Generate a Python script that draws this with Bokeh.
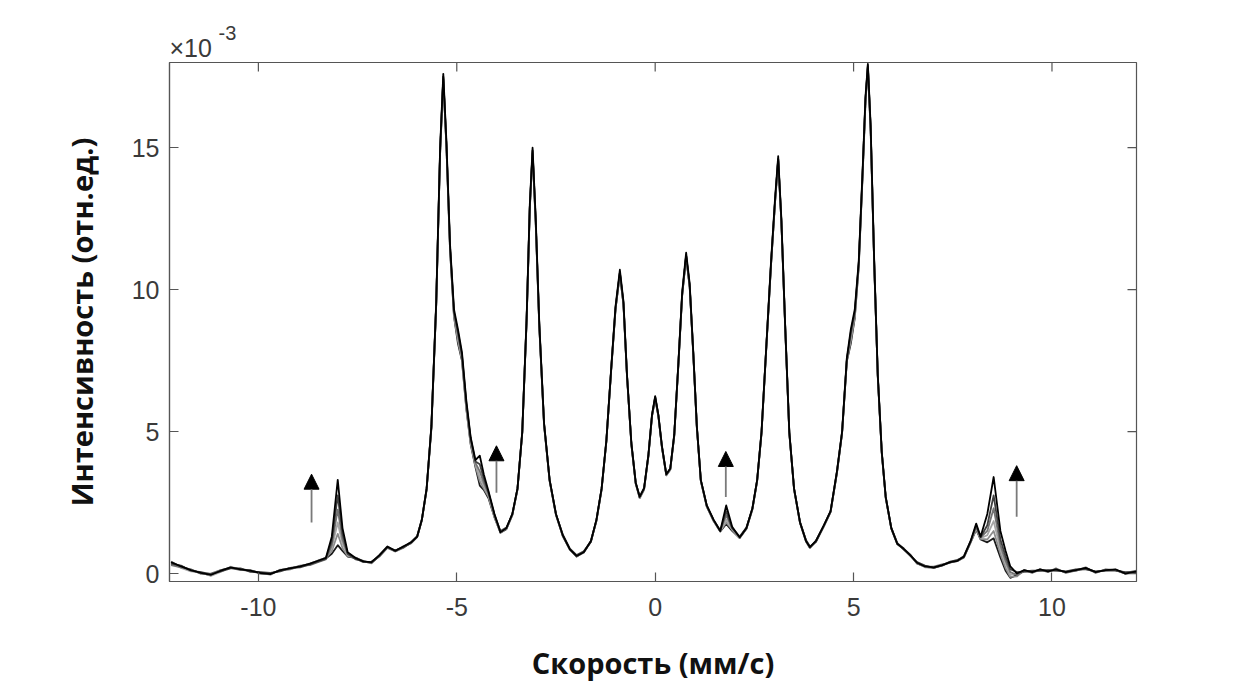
import math
from bokeh.plotting import figure
from bokeh.models import Range1d, FixedTicker, Arrow, NormalHead, Title
from bokeh.embed import file_html
from bokeh.resources import INLINE

# Velocity grid (mm/s)
velocity = [
    -12.2, -11.95, -11.7, -11.45, -11.2, -10.95, -10.7, -10.45, -10.2, -9.95,
    -9.7, -9.45, -9.2, -8.95, -8.7, -8.5, -8.3, -8.15, -8.0, -7.88,
    -7.75, -7.55, -7.35, -7.15, -6.95, -6.75, -6.55, -6.35, -6.15, -6.0,
    -5.88, -5.76, -5.64, -5.52, -5.42, -5.34, -5.26, -5.17, -5.07, -4.97,
    -4.87, -4.76, -4.65, -4.53, -4.42, -4.32, -4.2, -4.05, -3.9, -3.75,
    -3.6, -3.47, -3.35, -3.24, -3.16, -3.09, -3.01, -2.92, -2.8, -2.66,
    -2.5, -2.33, -2.15, -1.98, -1.8, -1.62, -1.48, -1.35, -1.23, -1.11,
    -1.0, -0.89, -0.8, -0.71, -0.6, -0.49, -0.39, -0.28, -0.17, -0.08,
    0.0, 0.08, 0.17, 0.28, 0.38, 0.48, 0.58, 0.68, 0.78, 0.87,
    0.96, 1.05, 1.15, 1.3, 1.47, 1.64, 1.79, 1.94, 2.13, 2.3,
    2.45, 2.57, 2.68, 2.8, 2.92, 3.02, 3.1, 3.18, 3.28, 3.38,
    3.5, 3.65, 3.8, 3.9, 4.05, 4.25, 4.42, 4.58, 4.71, 4.83,
    4.93, 5.03, 5.13, 5.23, 5.3, 5.36, 5.43, 5.52, 5.61, 5.71,
    5.81, 5.95, 6.1, 6.26, 6.43, 6.6, 6.8, 7.02, 7.23, 7.44,
    7.62, 7.78, 7.95, 8.09, 8.2, 8.37, 8.53, 8.7, 8.83, 8.95,
    9.12, 9.3, 9.5, 9.7, 9.9, 10.1, 10.35, 10.6, 10.85, 11.1,
    11.35, 11.6, 11.85, 12.13,
]

# Intensity, units of 1e-3 (six spectra)
spectrum_1 = [
    0.40, 0.25, 0.12, 0.02, -0.05, 0.10, 0.22, 0.15, 0.10, 0.02,
    -0.02, 0.12, 0.18, 0.25, 0.35, 0.45, 0.55, 1.30, 3.30, 1.60,
    0.75, 0.55, 0.42, 0.40, 0.65, 0.95, 0.80, 0.95, 1.10, 1.30,
    1.90, 3.00, 5.20, 9.50, 15.0, 17.6, 15.2, 11.6, 9.30, 8.60,
    7.80, 6.10, 4.80, 4.00, 4.15, 3.50, 2.90, 2.10, 1.45, 1.60,
    2.10, 3.00, 5.00, 9.00, 13.0, 15.0, 12.5, 8.80, 5.30, 3.30,
    2.10, 1.35, 0.85, 0.62, 0.75, 1.15, 1.90, 3.00, 4.70, 7.20,
    9.40, 10.7, 9.60, 7.00, 4.60, 3.20, 2.70, 3.00, 4.20, 5.60,
    6.25, 5.60, 4.50, 3.50, 3.70, 4.90, 7.30, 9.90, 11.3, 10.2,
    7.80, 5.20, 3.30, 2.40, 1.90, 1.50, 2.40, 1.65, 1.27, 1.60,
    2.30, 3.30, 5.00, 8.00, 11.0, 13.2, 14.7, 12.5, 8.60, 5.00,
    3.00, 1.80, 1.15, 0.93, 1.15, 1.70, 2.20, 3.60, 5.00, 7.60,
    8.60, 9.30, 11.0, 14.3, 16.8, 17.95, 15.8, 11.0, 7.00, 4.30,
    2.70, 1.60, 1.05, 0.88, 0.65, 0.38, 0.25, 0.22, 0.30, 0.40,
    0.45, 0.60, 1.15, 1.76, 1.30, 2.10, 3.40, 1.50, 0.80, 0.25,
    0.00, 0.12, 0.05, 0.15, 0.08, 0.15, 0.05, 0.12, 0.20, 0.05,
    0.12, 0.15, 0.00, 0.08,
]
spectrum_2 = [
    0.35, 0.28, 0.10, 0.05, -0.02, 0.08, 0.18, 0.18, 0.06, 0.05,
    0.02, 0.08, 0.20, 0.22, 0.32, 0.42, 0.52, 1.15, 2.75, 1.40,
    0.70, 0.50, 0.45, 0.38, 0.62, 0.92, 0.82, 0.92, 1.08, 1.28,
    1.88, 2.95, 5.10, 9.40, 14.9, 17.5, 15.1, 11.5, 9.20, 8.50,
    7.70, 6.00, 4.75, 3.95, 3.85, 3.35, 2.85, 2.05, 1.50, 1.62,
    2.08, 2.98, 4.95, 8.90, 12.9, 14.9, 12.4, 8.70, 5.25, 3.28,
    2.08, 1.38, 0.88, 0.65, 0.78, 1.12, 1.88, 2.98, 4.65, 7.15,
    9.30, 10.6, 9.50, 6.95, 4.55, 3.18, 2.72, 3.02, 4.15, 5.55,
    6.20, 5.55, 4.45, 3.48, 3.68, 4.85, 7.25, 9.80, 11.2, 10.1,
    7.75, 5.15, 3.28, 2.38, 1.88, 1.50, 2.20, 1.60, 1.30, 1.62,
    2.28, 3.28, 4.95, 7.95, 10.9, 13.1, 14.6, 12.4, 8.55, 4.95,
    2.98, 1.82, 1.18, 0.95, 1.12, 1.68, 2.18, 3.55, 4.95, 7.50,
    8.50, 9.20, 10.9, 14.2, 16.7, 17.85, 15.7, 10.9, 6.95, 4.25,
    2.68, 1.62, 1.08, 0.85, 0.62, 0.40, 0.28, 0.20, 0.28, 0.42,
    0.48, 0.58, 1.12, 1.70, 1.28, 1.70, 2.75, 1.20, 0.60, 0.15,
    0.05, 0.08, 0.10, 0.10, 0.12, 0.10, 0.08, 0.15, 0.15, 0.08,
    0.10, 0.10, 0.05, 0.05,
]
spectrum_3 = [
    0.30, 0.22, 0.15, 0.00, 0.00, 0.12, 0.20, 0.12, 0.12, 0.00,
    0.00, 0.10, 0.15, 0.28, 0.30, 0.40, 0.50, 1.00, 2.25, 1.20,
    0.68, 0.52, 0.40, 0.42, 0.60, 0.90, 0.78, 0.90, 1.12, 1.32,
    1.92, 3.00, 5.15, 9.45, 14.9, 17.5, 15.0, 11.5, 9.15, 8.40,
    7.65, 5.95, 4.70, 3.90, 3.60, 3.20, 2.80, 2.08, 1.48, 1.58,
    2.10, 3.00, 4.98, 8.95, 12.9, 14.9, 12.4, 8.75, 5.28, 3.30,
    2.10, 1.36, 0.86, 0.60, 0.76, 1.14, 1.90, 3.00, 4.68, 7.18,
    9.35, 10.6, 9.55, 6.98, 4.58, 3.20, 2.68, 2.98, 4.18, 5.58,
    6.22, 5.58, 4.48, 3.50, 3.70, 4.88, 7.28, 9.85, 11.2, 10.15,
    7.78, 5.18, 3.30, 2.40, 1.90, 1.52, 2.05, 1.60, 1.28, 1.60,
    2.30, 3.30, 4.98, 7.98, 10.95, 13.1, 14.6, 12.45, 8.58, 4.98,
    3.00, 1.80, 1.16, 0.92, 1.14, 1.70, 2.20, 3.58, 4.98, 7.55,
    8.40, 9.15, 10.9, 14.2, 16.7, 17.9, 15.7, 10.95, 6.98, 4.28,
    2.70, 1.60, 1.06, 0.86, 0.66, 0.36, 0.24, 0.24, 0.32, 0.38,
    0.46, 0.62, 1.14, 1.65, 1.27, 1.50, 2.30, 1.00, 0.45, 0.05,
    -0.05, 0.12, 0.02, 0.15, 0.05, 0.18, 0.02, 0.10, 0.22, 0.02,
    0.15, 0.12, 0.02, 0.10,
]
spectrum_4 = [
    0.38, 0.20, 0.08, 0.04, -0.08, 0.06, 0.24, 0.14, 0.08, 0.04,
    -0.05, 0.14, 0.16, 0.24, 0.36, 0.44, 0.56, 0.90, 1.80, 1.05,
    0.65, 0.56, 0.44, 0.36, 0.66, 0.96, 0.78, 0.96, 1.06, 1.28,
    1.88, 2.95, 5.15, 9.40, 14.8, 17.4, 15.0, 11.4, 9.10, 8.30,
    7.60, 5.90, 4.65, 3.85, 3.40, 3.10, 2.75, 2.02, 1.44, 1.60,
    2.06, 2.96, 4.96, 8.92, 12.85, 14.8, 12.3, 8.70, 5.24, 3.26,
    2.06, 1.32, 0.84, 0.64, 0.74, 1.16, 1.86, 2.96, 4.66, 7.16,
    9.32, 10.55, 9.50, 6.96, 4.56, 3.16, 2.66, 2.96, 4.16, 5.56,
    6.18, 5.56, 4.46, 3.46, 3.66, 4.86, 7.26, 9.82, 11.15, 10.1,
    7.74, 5.16, 3.26, 2.36, 1.86, 1.48, 1.90, 1.55, 1.25, 1.58,
    2.26, 3.26, 4.96, 7.96, 10.9, 13.05, 14.55, 12.4, 8.54, 4.96,
    2.96, 1.78, 1.14, 0.90, 1.16, 1.66, 2.16, 3.56, 4.96, 7.50,
    8.30, 9.10, 10.85, 14.15, 16.65, 17.85, 15.65, 10.9, 6.94, 4.26,
    2.66, 1.58, 1.04, 0.90, 0.64, 0.40, 0.22, 0.20, 0.30, 0.42,
    0.44, 0.58, 1.10, 1.60, 1.25, 1.35, 1.85, 0.85, 0.35, -0.05,
    0.00, 0.10, 0.08, 0.12, 0.10, 0.12, 0.06, 0.14, 0.16, 0.06,
    0.10, 0.14, 0.00, 0.06,
]
spectrum_5 = [
    0.42, 0.24, 0.14, 0.00, -0.04, 0.12, 0.20, 0.16, 0.10, 0.00,
    0.00, 0.10, 0.20, 0.26, 0.34, 0.46, 0.54, 0.80, 1.40, 0.90,
    0.62, 0.54, 0.40, 0.40, 0.64, 0.94, 0.80, 0.94, 1.10, 1.30,
    1.90, 2.98, 5.18, 9.45, 14.85, 17.45, 15.05, 11.45, 9.10, 8.20,
    7.55, 5.85, 4.60, 3.80, 3.25, 3.00, 2.70, 2.00, 1.46, 1.58,
    2.08, 2.98, 4.98, 8.95, 12.9, 14.85, 12.35, 8.72, 5.26, 3.28,
    2.08, 1.34, 0.86, 0.62, 0.76, 1.14, 1.88, 2.98, 4.68, 7.18,
    9.35, 10.6, 9.52, 6.98, 4.58, 3.18, 2.68, 2.98, 4.18, 5.58,
    6.20, 5.58, 4.48, 3.48, 3.68, 4.88, 7.28, 9.85, 11.2, 10.12,
    7.76, 5.18, 3.28, 2.38, 1.88, 1.50, 1.80, 1.55, 1.27, 1.60,
    2.28, 3.28, 4.98, 7.98, 10.92, 13.1, 14.6, 12.42, 8.56, 4.98,
    2.98, 1.80, 1.16, 0.92, 1.14, 1.68, 2.18, 3.58, 4.98, 7.52,
    8.20, 9.05, 10.85, 14.2, 16.7, 17.9, 15.7, 10.92, 6.96, 4.28,
    2.68, 1.60, 1.06, 0.88, 0.66, 0.38, 0.26, 0.22, 0.28, 0.40,
    0.46, 0.60, 1.12, 1.58, 1.22, 1.20, 1.50, 0.70, 0.20, -0.12,
    -0.10, 0.12, 0.05, 0.15, 0.08, 0.14, 0.04, 0.12, 0.18, 0.04,
    0.14, 0.12, 0.02, 0.08,
]
spectrum_6 = [
    0.36, 0.26, 0.10, 0.02, -0.06, 0.08, 0.22, 0.14, 0.10, 0.02,
    -0.02, 0.12, 0.18, 0.24, 0.34, 0.44, 0.53, 0.70, 1.00, 0.80,
    0.60, 0.55, 0.42, 0.38, 0.63, 0.93, 0.79, 0.93, 1.09, 1.29,
    1.89, 2.97, 5.16, 9.42, 14.8, 17.4, 15.0, 11.4, 9.05, 8.10,
    7.50, 5.80, 4.55, 3.75, 3.10, 2.95, 2.65, 1.98, 1.44, 1.56,
    2.06, 2.96, 4.96, 8.92, 12.85, 14.8, 12.3, 8.68, 5.22, 3.26,
    2.06, 1.32, 0.84, 0.60, 0.74, 1.12, 1.86, 2.96, 4.66, 7.14,
    9.30, 10.55, 9.48, 6.94, 4.54, 3.16, 2.66, 2.96, 4.14, 5.54,
    6.16, 5.54, 4.44, 3.46, 3.66, 4.84, 7.24, 9.80, 11.15, 10.08,
    7.72, 5.14, 3.26, 2.36, 1.86, 1.48, 1.75, 1.50, 1.25, 1.58,
    2.26, 3.26, 4.94, 7.94, 10.88, 13.05, 14.55, 12.38, 8.52, 4.94,
    2.96, 1.78, 1.14, 0.90, 1.12, 1.66, 2.16, 3.54, 4.94, 7.48,
    8.10, 9.00, 10.8, 14.1, 16.6, 17.8, 15.6, 10.88, 6.92, 4.24,
    2.66, 1.58, 1.04, 0.86, 0.64, 0.36, 0.24, 0.20, 0.30, 0.40,
    0.44, 0.57, 1.10, 1.55, 1.20, 1.10, 1.24, 0.57, 0.10, -0.15,
    -0.05, 0.08, 0.06, 0.10, 0.10, 0.12, 0.06, 0.10, 0.18, 0.06,
    0.12, 0.12, 0.00, 0.06,
]
spectra = [spectrum_6, spectrum_5, spectrum_4, spectrum_3, spectrum_2, spectrum_1]
spectrum_colors = ["#1a1a1a", "#8c8c8c", "#a6a6a6", "#737373", "#404040", "#000000"]

x_ticks = [-10, -5, 0, 5, 10]
y_ticks = [0, 5, 10, 15]
x_min, x_max = -12.24, 12.13
y_min, y_max = -0.28, 18.0

# Arrows marking the growing peaks
arrow_x = [-8.66, -4.0, 1.78, 9.11]
arrow_y_start = [1.8, 2.85, 2.7, 2.0]
arrow_y_end = [3.5, 4.5, 4.3, 3.8]

x_label = "Скорость (мм/с)"
y_label = "Интенсивность (отн.ед.)"
scale_base = "×10"
scale_exp = "-3"

AXIS_COLOR = "#555555"
TICK_TEXT = "#3a3a3a"
TICK_FONT = "Liberation Sans"
LABEL_FONT = "Open Sans"

p = figure(
    width=1240, height=684,
    x_range=Range1d(x_min, x_max), y_range=Range1d(y_min, y_max),
    output_backend="svg", toolbar_location=None,
    min_border_left=169, min_border_right=104,
    min_border_top=62, min_border_bottom=103,
    background_fill_color="white", border_fill_color="white",
)
p.xgrid.visible = False
p.ygrid.visible = False
p.outline_line_color = AXIS_COLOR
p.outline_line_width = 1.2

bottom_axis = p.below[0]
left_axis = p.left[0]

for ax in (bottom_axis, left_axis):
    ax.major_tick_in = 9
    ax.major_tick_out = 0
    ax.minor_tick_line_color = None
    ax.axis_line_color = AXIS_COLOR
    ax.axis_line_width = 1.2
    ax.major_tick_line_color = AXIS_COLOR
    ax.major_tick_line_width = 1.2
    ax.major_label_text_font = TICK_FONT
    ax.major_label_text_font_size = "25px"
    ax.major_label_text_color = TICK_TEXT
    ax.axis_label_text_font = LABEL_FONT
    ax.axis_label_text_font_style = "bold"
    ax.axis_label_text_font_size = "29px"
    ax.axis_label_text_color = "#111111"

bottom_axis.ticker = FixedTicker(ticks=x_ticks)
left_axis.ticker = FixedTicker(ticks=y_ticks)
bottom_axis.major_label_overrides = {t: str(t) for t in x_ticks}
bottom_axis.axis_label = x_label
left_axis.axis_label = y_label
bottom_axis.major_label_standoff = 16
left_axis.major_label_standoff = 10
bottom_axis.axis_label_standoff = 24
left_axis.axis_label_standoff = 28

# mirrored inner ticks on the top and right box edges (dash markers clipped by the frame)
p.scatter(x_ticks, [y_max] * len(x_ticks), marker="dash", size=18, angle=math.pi / 2,
          line_color=AXIS_COLOR, line_width=1.2)
p.scatter([x_max] * len(y_ticks), y_ticks, marker="dash", size=18, angle=0,
          line_color=AXIS_COLOR, line_width=1.2)

# scale factor "×10" with raised exponent "-3" (two stacked titles)
p.add_layout(Title(text=scale_base, align="left", offset=0, standoff=2,
                   text_font=TICK_FONT, text_font_size="25px", text_font_style="normal",
                   text_color=TICK_TEXT), "above")
p.title.text = scale_exp
p.title.align = "left"
p.title.offset = 49
p.title.standoff = -19
p.title.text_font = TICK_FONT
p.title.text_font_size = "20px"
p.title.text_font_style = "normal"
p.title.text_color = TICK_TEXT

for ys, col in zip(spectra, spectrum_colors):
    p.line(velocity, ys, line_color=col, line_width=1.8, line_join="round")

for xa, y0, y1 in zip(arrow_x, arrow_y_start, arrow_y_end):
    p.add_layout(Arrow(
        end=NormalHead(size=15, fill_color="black", line_color="black", line_width=1),
        x_start=xa, y_start=y0, x_end=xa, y_end=y1,
        line_color="#7a7a7a", line_width=1.8,
    ))

open("out.html", "w").write(file_html(p, INLINE))
